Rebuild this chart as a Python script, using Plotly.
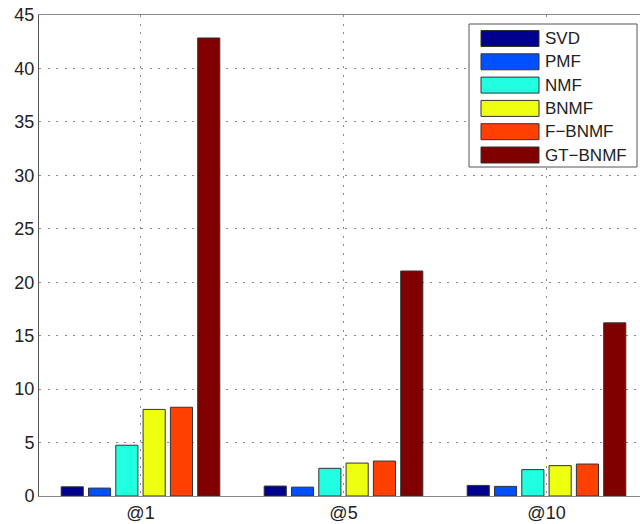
import plotly.graph_objects as go

categories = ["@1", "@5", "@10"]
series_names = ["SVD", "PMF", "NMF", "BNMF", "F-BNMF", "GT-BNMF"]
svd = [0.86, 0.93, 0.99]
pmf = [0.74, 0.83, 0.90]
nmf = [4.75, 2.59, 2.47]
bnmf = [8.1, 3.08, 2.84]
f_bnmf = [8.3, 3.27, 2.99]
gt_bnmf = [42.85, 21.05, 16.2]
y_ticks = [0, 5, 10, 15, 20, 25, 30, 35, 40, 45]

series_values = [svd, pmf, nmf, bnmf, f_bnmf, gt_bnmf]
colors = ["#00008F", "#0050FF", "#20FFDF", "#EFFF10", "#FF4000", "#800000"]

font_family = "Liberation Sans, Arial, sans-serif"
text_color = "#222222"

fig = go.Figure()
for name, vals, col in zip(series_names, series_values, colors):
    fig.add_trace(go.Bar(
        x=categories, y=vals, name=name, showlegend=False,
        marker=dict(color=col, line=dict(color="#333333", width=1)),
    ))

# Custom MATLAB-style legend (wide swatches) drawn in paper coordinates.
# Plot area on the page: x 39..648 (the right part is cropped by the window), y 15..496
PX0, PX1, PY0, PY1 = 39.0, 648.0, 15.0, 496.0
def px(x):
    return (x - PX0) / (PX1 - PX0)
def py(y):
    return (PY1 - y) / (PY1 - PY0)

shapes = [dict(type="rect", xref="paper", yref="paper",
               x0=px(469), x1=px(637), y0=py(167), y1=py(24),
               line=dict(color="#555555", width=1), fillcolor="white", layer="above")]
annotations = []
row0, row_step, sw_half = 38.5, 23.3, 8
for i, (name, col) in enumerate(zip(series_names, colors)):
    cy = row0 + row_step * i
    shapes.append(dict(type="rect", xref="paper", yref="paper",
                       x0=px(481), x1=px(539), y0=py(cy + sw_half), y1=py(cy - sw_half),
                       line=dict(color="#333333", width=1), fillcolor=col, layer="above"))
    annotations.append(dict(xref="paper", yref="paper", x=px(543), y=py(cy),
                            xanchor="left", yanchor="middle", showarrow=False,
                            text=name.replace("-", "\u2212"),
                            font=dict(family=font_family, size=17, color=text_color)))

fig.update_layout(
    width=648, height=524,
    margin=dict(l=39, r=0, t=15, b=28),
    paper_bgcolor="white", plot_bgcolor="white",
    barmode="group", bargap=0.193, bargroupgap=0.19,
    font=dict(family=font_family, size=18, color=text_color),
    shapes=shapes, annotations=annotations,
    showlegend=False,
)
fig.update_xaxes(
    type="category", range=[-0.5, 2.5],
    showgrid=True, gridcolor="#8a8a8a", griddash="2px,6.5px", gridwidth=1,
    showline=True, linecolor="#888888", linewidth=1, mirror=True,
    ticks="", tickfont=dict(size=18, color=text_color),
)
fig.update_yaxes(
    range=[0, 45], tickvals=y_ticks,
    showgrid=True, gridcolor="#8a8a8a", griddash="2px,6.5px", gridwidth=1,
    showline=True, linecolor="#555555", linewidth=1, mirror=False,
    zeroline=False, ticks="", tickfont=dict(size=18, color=text_color),
)

fig.write_html("out.html",
               config={"displayModeBar": False},
               post_script="document.body.style.margin='0';document.body.style.overflow='hidden';")
